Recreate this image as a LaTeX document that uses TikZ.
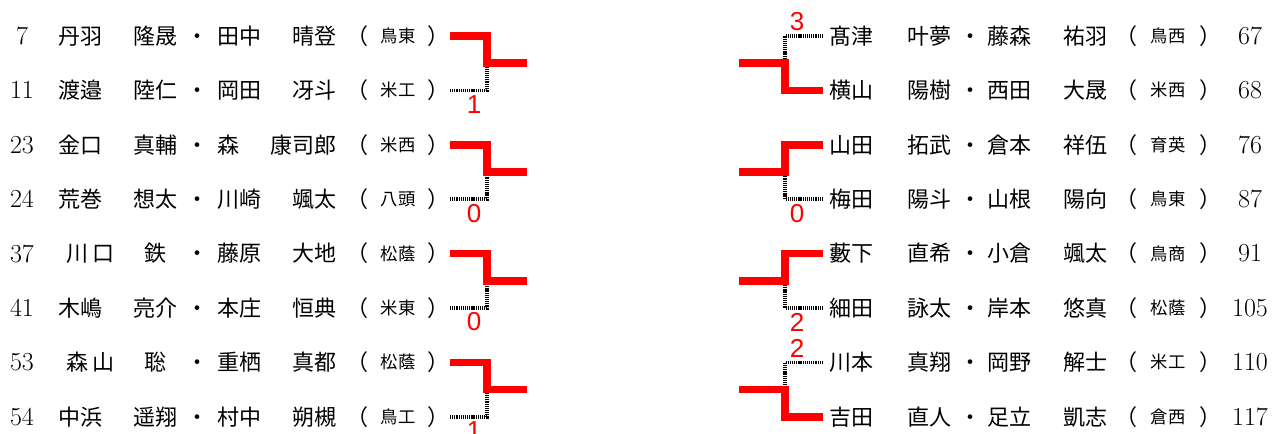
\documentclass[tikz,border=0pt]{standalone}
\usepackage{fontspec}
\newfontfamily\jp{Noto Sans CJK JP}
\newfontfamily\scorefont{Liberation Sans}

\tikzset{
  jname/.style={inner sep=0pt,anchor=base,font=\jp\fontsize{16.5}{16.5}\selectfont},
  school/.style={inner sep=0pt,anchor=base,font=\jp\fontsize{13}{13}\selectfont},
  seed/.style={inner sep=0pt,font=\fontsize{19.5}{19.5}\selectfont},
  win/.style={draw=red,line width=5.6pt,line join=miter},
  lose/.style={draw=black,line width=2.6pt,dash pattern=on 0.9pt off 0.7pt},
  score/.style={inner sep=0pt,text=red,font=\scorefont\fontsize{19.5}{19.5}\selectfont}
}

\begin{document}
\begin{tikzpicture}[x=0.75pt,y=-0.75pt]
  \useasboundingbox (0,0) rectangle (1272,434);

  % left block
  \foreach \n/\fa/\ga/\fb/\gb/\sc [count=\i] in {
      7/丹羽/隆晟/田中/晴登/鳥東,
      11/渡邉/陸仁/岡田/冴斗/米工,
      23/金口/真輔/森/康司郎/米西,
      24/荒巻/想太/川崎/颯太/八頭,
      37/{\hspace{6pt}川\hspace{3pt}口}/鉄/藤原/大地/松蔭,
      41/木嶋/亮介/本庄/恒典/米東,
      53/{\hspace{6pt}森\hspace{3pt}山}/聡/重栖/真都/松蔭,
      54/中浜/遥翔/村中/朔槻/鳥工}{
    \pgfmathsetmacro\y{36+54.4*(\i-1)}
    \pgfmathsetmacro\bl{\y+8.4}
    \pgfmathsetmacro\bs{\y+6.6}
    \node[seed] (ln\i) at (22,\y) {\n};
    \node[jname,anchor=base west] (lfa\i) at (58,\bl) {\fa};
    \node[jname] (lga\i) at (155,\bl) {\ga};
    \node[jname] (ldot\i) at (197,\bl) {・};
    \node[jname,anchor=base west] (lfb\i) at (217,\bl) {\fb};
    \node[jname,anchor=base east] (lgb\i) at (337,\bl) {\gb};
    \node[jname] (lop\i) at (357,\bl) {（};
    \node[school] (lsc\i) at (398,\bs) {\sc};
    \node[jname] (lcl\i) at (438,\bl) {）};
    \coordinate (lend\i) at (450,\y);
  }

  % right block
  \foreach \n/\fa/\ga/\fb/\gb/\sc [count=\i] in {
      67/髙津/叶夢/藤森/祐羽/鳥西,
      68/横山/陽樹/西田/大晟/米西,
      76/山田/拓武/倉本/祥伍/育英,
      87/梅田/陽斗/山根/陽向/鳥東,
      91/藪下/直希/小倉/颯太/鳥商,
      105/細田/詠太/岸本/悠真/松蔭,
      110/川本/真翔/岡野/解士/米工,
      117/吉田/直人/足立/凱志/倉西}{
    \pgfmathsetmacro\y{36+54.4*(\i-1)}
    \pgfmathsetmacro\bl{\y+8.4}
    \pgfmathsetmacro\bs{\y+6.6}
    \coordinate (rend\i) at (823,\y);
    \node[jname,anchor=base west] (rfa\i) at (829,\bl) {\fa};
    \node[jname] (rga\i) at (929,\bl) {\ga};
    \node[jname] (rdot\i) at (970,\bl) {・};
    \node[jname,anchor=base west] (rfb\i) at (987,\bl) {\fb};
    \node[jname,anchor=base east] (rgb\i) at (1108,\bl) {\gb};
    \node[jname] (rop\i) at (1126,\bl) {（};
    \node[school] (rsc\i) at (1168,\bs) {\sc};
    \node[jname] (rcl\i) at (1210,\bl) {）};
    \node[seed] (rn\i) at (1250,\y) {\n};
  }

  % left brackets, winner on top
  \foreach \k/\s in {0/1,1/0,2/0,3/1}{
    \pgfmathtruncatemacro\t{2*\k+1}
    \pgfmathtruncatemacro\b{2*\k+2}
    \pgfmathsetmacro\m{63.2+108.8*\k}
    \coordinate (lmid\k) at (487,\m);
    \coordinate (lout\k) at (527,\m);
    \draw[lose] (lend\b) -| (lmid\k);
    \draw[win] (lend\t) -| (lmid\k) -- (lout\k);
    \node[score] (lsc\k) at ([xshift=-13pt*0.75,yshift=-14pt*0.75]lmid\k |- lend\b) {\s};
  }

  % right brackets
  \foreach \k/\w/\l/\s in {0/2/1/3,1/3/4/0,2/5/6/2,3/8/7/2}{
    \pgfmathsetmacro\m{63.2+108.8*\k}
    \pgfmathsetmacro\off{ifthenelse(\l<\w,14,-14)*0.75}
    \coordinate (rmid\k) at (785,\m);
    \coordinate (rin\k) at (739,\m);
    \draw[lose] (rmid\k) |- (rend\l);
    \draw[win] (rin\k) -- (rmid\k) |- (rend\w);
    \node[score] (rsc\k) at ([xshift=12pt*0.75,yshift=\off pt]rmid\k |- rend\l) {\s};
  }
\end{tikzpicture}
\end{document}
